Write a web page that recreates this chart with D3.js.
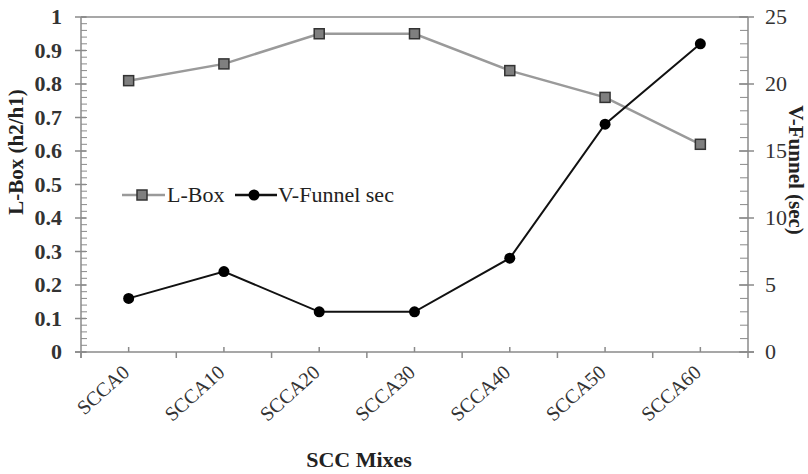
<!DOCTYPE html>
<html><head><meta charset="utf-8">
<script src="https://cdn.jsdelivr.net/npm/d3@7"></script>
<style>body{margin:0;background:#fff}svg{display:block}</style>
</head><body><svg id="c" width="808" height="474" font-family="'Liberation Serif', 'Times New Roman', Times, serif"></svg>
<script>
const categories = ["SCCA0","SCCA10","SCCA20","SCCA30","SCCA40","SCCA50","SCCA60"];
const lboxValues = [0.81,0.86,0.95,0.95,0.84,0.76,0.62];
const vfunnelValues = [4,6,3,3,7,17,23];
const leftTicks = [0,0.1,0.2,0.3,0.4,0.5,0.6,0.7,0.8,0.9,1];
const rightTicks = [0,5,10,15,20,25];

const svg = d3.select("#c");
const F = "'Liberation Serif', 'Times New Roman', Times, serif";
const L=81, R=748, T=17, B=352;
const axisColor="#8a8a8a";
const x = d3.scaleBand().domain(categories).range([L,R]).padding(0);
const yL = d3.scaleLinear().domain([0,1]).range([B,T]);
const yR = d3.scaleLinear().domain([0,25]).range([B,T]);
const cx = d => x(d)+x.bandwidth()/2;

// frame
svg.append("line").attr("x1",L).attr("x2",R).attr("y1",T).attr("y2",T).attr("stroke",axisColor).attr("stroke-width",1.5);

// left axis
const leftMinor = d3.range(0,51).map(i=>i/50);
svg.append("g").selectAll("line").data(leftMinor).join("line")
  .attr("x1",L).attr("x2",L+6).attr("y1",d=>yL(d)).attr("y2",d=>yL(d)).attr("stroke",axisColor).attr("stroke-width",1);
svg.append("g").selectAll("line").data(leftTicks).join("line")
  .attr("x1",L-6).attr("x2",L+5).attr("y1",d=>yL(d)).attr("y2",d=>yL(d)).attr("stroke",axisColor).attr("stroke-width",1.5);
svg.append("line").attr("x1",L).attr("x2",L).attr("y1",T).attr("y2",B+6).attr("stroke",axisColor).attr("stroke-width",1.5);
svg.append("g").selectAll("text").data(leftTicks).join("text")
  .attr("font-family",F)
  .attr("x",L-19).attr("y",d=>yL(d)+7).attr("text-anchor","end").attr("font-size",22).attr("font-weight","bold").attr("fill","#333")
  .text(d=>d3.format("")(d));

// right axis
const rightMinor = d3.range(0,26);
svg.append("g").selectAll("line").data(rightMinor).join("line")
  .attr("x1",R-8).attr("x2",R).attr("y1",d=>yR(d)).attr("y2",d=>yR(d)).attr("stroke",axisColor).attr("stroke-width",1);
svg.append("g").selectAll("line").data(rightTicks).join("line")
  .attr("x1",R-9).attr("x2",R+6).attr("y1",d=>yR(d)).attr("y2",d=>yR(d)).attr("stroke",axisColor).attr("stroke-width",1.5);
svg.append("line").attr("x1",R).attr("x2",R).attr("y1",T).attr("y2",B).attr("stroke",axisColor).attr("stroke-width",1.5);
svg.append("g").selectAll("text").data(rightTicks).join("text")
  .attr("font-family",F)
  .attr("x",R+17).attr("y",d=>yR(d)+7).attr("text-anchor","start").attr("font-size",22).attr("fill","#333")
  .text(d=>d);

// bottom axis
svg.append("line").attr("x1",L-6).attr("x2",R+6).attr("y1",B).attr("y2",B).attr("stroke",axisColor).attr("stroke-width",1.5);
const bounds = categories.map(c=>x(c)).concat([R]);
svg.append("g").selectAll("line").data(bounds).join("line")
  .attr("x1",d=>d).attr("x2",d=>d).attr("y1",B).attr("y2",B+6).attr("stroke",axisColor).attr("stroke-width",1.5);
svg.append("g").selectAll("line").data(categories).join("line")
  .attr("x1",d=>cx(d)).attr("x2",d=>cx(d)).attr("y1",B-5).attr("y2",B).attr("stroke",axisColor).attr("stroke-width",1.5);
svg.append("g").selectAll("text").data(categories).join("text")
  .attr("font-family",F)
  .attr("text-anchor","end").attr("font-size",20).attr("fill","#333")
  .attr("transform",d=>`translate(${cx(d)+2},${B+22}) rotate(-42)`)
  .text(d=>d);

// axis titles
svg.append("text").attr("font-family",F).attr("text-anchor","middle").attr("font-size",21).attr("font-weight","bold").attr("fill","#222")
  .attr("transform",`translate(23,152) rotate(-90)`).text("L-Box (h2/h1)");
svg.append("text").attr("font-family",F).attr("text-anchor","middle").attr("font-size",21).attr("font-weight","bold").attr("fill","#222")
  .attr("transform",`translate(789,170) rotate(90)`).text("V-Funnel (sec)");
svg.append("text").attr("font-family",F).attr("text-anchor","middle").attr("font-size",22).attr("font-weight","bold").attr("fill","#222")
  .attr("x",359).attr("y",467).text("SCC Mixes");

// series
const lineL = d3.line().x((d,i)=>cx(categories[i])).y(d=>yL(d));
const lineR = d3.line().x((d,i)=>cx(categories[i])).y(d=>yR(d));
svg.append("path").attr("d",lineL(lboxValues)).attr("fill","none").attr("stroke","#9a9a9a").attr("stroke-width",2.5);
svg.append("path").attr("d",lineR(vfunnelValues)).attr("fill","none").attr("stroke","#111").attr("stroke-width",2);
svg.append("g").selectAll("rect").data(lboxValues).join("rect")
  .attr("x",(d,i)=>cx(categories[i])-5).attr("y",d=>yL(d)-5).attr("width",10).attr("height",10)
  .attr("fill","#7f7f7f").attr("stroke","#333").attr("stroke-width",1.5);
svg.append("g").selectAll("circle").data(vfunnelValues).join("circle")
  .attr("cx",(d,i)=>cx(categories[i])).attr("cy",d=>yR(d)).attr("r",5.5).attr("fill","#000");

// legend
const ly=195;
svg.append("line").attr("x1",122).attr("x2",165).attr("y1",ly).attr("y2",ly).attr("stroke","#9a9a9a").attr("stroke-width",2.5);
svg.append("rect").attr("x",137).attr("y",ly-5).attr("width",10).attr("height",10).attr("fill","#7f7f7f").attr("stroke","#333").attr("stroke-width",1.5);
svg.append("text").attr("font-family",F).attr("x",167).attr("y",ly+7).attr("font-size",22).attr("fill","#222").text("L-Box");
svg.append("line").attr("x1",235).attr("x2",277).attr("y1",ly).attr("y2",ly).attr("stroke","#111").attr("stroke-width",2.5);
svg.append("circle").attr("cx",254).attr("cy",ly).attr("r",5.5).attr("fill","#000");
svg.append("text").attr("font-family",F).attr("x",278).attr("y",ly+7).attr("font-size",22).attr("fill","#222").text("V-Funnel sec");
</script></body></html>
